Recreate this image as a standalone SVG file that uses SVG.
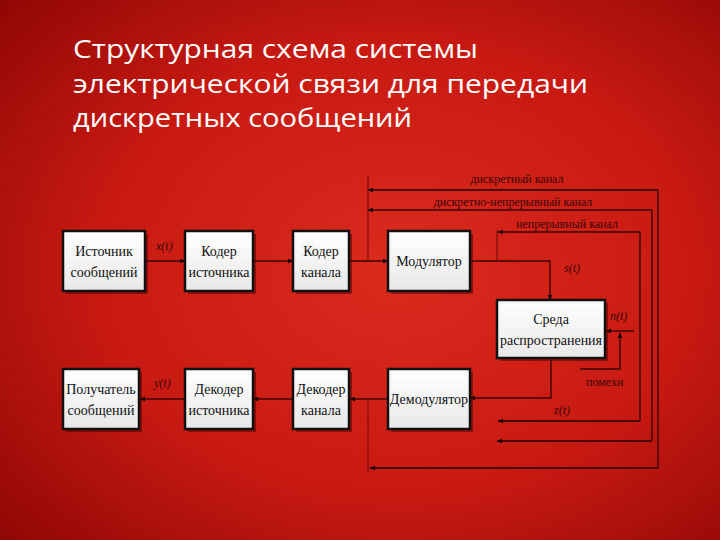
<svg xmlns="http://www.w3.org/2000/svg" width="720" height="540" viewBox="0 0 720 540">
<defs>
<radialGradient id="bg" cx="0.55" cy="0.5" r="0.75">
<stop offset="0" stop-color="#dc2a1e"/>
<stop offset="0.55" stop-color="#c81a12"/>
<stop offset="1" stop-color="#8e0604"/>
</radialGradient>
<linearGradient id="boxfill" x1="0" y1="0" x2="0" y2="1">
<stop offset="0" stop-color="#ffffff"/>
<stop offset="1" stop-color="#e8e8e8"/>
</linearGradient>
<marker id="ah" viewBox="0 0 10 10" refX="9" refY="5" markerWidth="6" markerHeight="6" orient="auto" markerUnits="userSpaceOnUse">
<path d="M0,1 L10,5 L0,9 z" fill="#1a0000"/>
</marker>
<style>
.box{fill:url(#boxfill);stroke:#111;stroke-width:2.5}
.shadow{fill:#5a0000;opacity:0.55}
.bt{font-family:"Liberation Serif","Times New Roman",serif;font-size:14px;fill:#111;text-anchor:middle}
.lbl{font-family:"Liberation Serif","Times New Roman",serif;font-size:12px;fill:#3a0606}
.it{font-family:"Liberation Serif","Times New Roman",serif;font-size:12px;font-style:italic;fill:#3a0606}
.ln{fill:none;stroke:#3a0606;stroke-width:1.4}
.ln2{fill:none;stroke:#4a0808;stroke-width:1.8}
.tk{fill:none;stroke:#6a0a0a;stroke-width:1}
.title{font-family:"Open Sans","Noto Sans",sans-serif;font-size:26px;fill:#ffffff}
</style>
</defs>
<rect width="720" height="540" fill="url(#bg)"/>
<g id="title">
<text class="title" x="73" y="58" textLength="405" lengthAdjust="spacingAndGlyphs">Структурная схема системы</text>
<text class="title" x="73" y="93" textLength="515" lengthAdjust="spacingAndGlyphs">электрической связи для передачи</text>
<text class="title" x="73" y="127" textLength="339" lengthAdjust="spacingAndGlyphs">дискретных сообщений</text>
</g>
<g id="connectors">
<path class="ln" d="M145,261 H185" marker-end="url(#ah)"/>
<path class="ln" d="M253,261 H293" marker-end="url(#ah)"/>
<path class="ln" d="M350,261 H388" marker-end="url(#ah)"/>
<path class="ln" d="M470,261 H550 V300" marker-end="url(#ah)"/>
<path class="ln" d="M551,360 V398 H470" marker-end="url(#ah)"/>
<path class="ln" d="M388,399 H350" marker-end="url(#ah)"/>
<path class="ln" d="M293,399 H253" marker-end="url(#ah)"/>
<path class="ln" d="M185,399 H140" marker-end="url(#ah)"/>
<path class="ln" d="M634,331 H606" marker-end="url(#ah)"/>
<path class="ln" d="M580,369 H620 V333" marker-end="url(#ah)"/>
<path class="tk" d="M368,176 V262 M368,399 V472 M497,230 V262"/>
<path class="ln2" d="M658,190 H368" marker-end="url(#ah)"/>
<path class="ln" d="M658,190 V468"/>
<path class="ln2" d="M658,468 H370" marker-end="url(#ah)"/>
<path class="ln" d="M652,210 H368" marker-end="url(#ah)"/>
<path class="ln" d="M652,210 V441"/>
<path class="ln2" d="M652,441 H497" marker-end="url(#ah)"/>
<path class="ln" d="M640,232 H498" marker-end="url(#ah)"/>
<path class="ln" d="M640,232 V421"/>
<path class="ln2" d="M640,421 H498" marker-end="url(#ah)"/>
</g>
<g id="labels">
<text class="lbl" x="517" y="183" text-anchor="middle">дискретный канал</text>
<text class="lbl" x="513" y="206" text-anchor="middle">дискретно-непрерывный канал</text>
<text class="lbl" x="567" y="228" text-anchor="middle">непрерывный канал</text>
<text class="it" x="156" y="250">x(t)</text>
<text class="it" x="564" y="272">s(t)</text>
<text class="it" x="610" y="320">n(t)</text>
<text class="lbl" x="586" y="386">помехи</text>
<text class="it" x="554" y="414">z(t)</text>
<text class="it" x="154" y="387">y(t)</text>
</g>
<g id="n-source">
<rect class="shadow" x="66" y="234" width="82" height="60"/>
<rect class="box" x="63" y="231" width="82" height="60"/>
<text class="bt" x="104" y="256">Источник</text>
<text class="bt" x="104" y="277">сообщений</text>
</g>
<g id="n-srccoder">
<rect class="shadow" x="188" y="234" width="68" height="60"/>
<rect class="box" x="185" y="231" width="68" height="60"/>
<text class="bt" x="219" y="256">Кодер</text>
<text class="bt" x="219" y="277">источника</text>
</g>
<g id="n-chcoder">
<rect class="shadow" x="296" y="234" width="56" height="60"/>
<rect class="box" x="293" y="231" width="56" height="60"/>
<text class="bt" x="321" y="256">Кодер</text>
<text class="bt" x="321" y="277">канала</text>
</g>
<g id="n-mod">
<rect class="shadow" x="391" y="234" width="82" height="60"/>
<rect class="box" x="388" y="231" width="82" height="60"/>
<text class="bt" x="429" y="266">Модулятор</text>
</g>
<g id="n-medium">
<rect class="shadow" x="500" y="303" width="108" height="58"/>
<rect class="box" x="497" y="300" width="108" height="58"/>
<text class="bt" x="551" y="324">Среда</text>
<text class="bt" x="551" y="345">распространения</text>
</g>
<g id="n-receiver">
<rect class="shadow" x="66" y="372" width="76" height="60"/>
<rect class="box" x="63" y="369" width="76" height="60"/>
<text class="bt" x="101" y="394">Получатель</text>
<text class="bt" x="101" y="415">сообщений</text>
</g>
<g id="n-srcdecoder">
<rect class="shadow" x="188" y="372" width="68" height="60"/>
<rect class="box" x="185" y="369" width="68" height="60"/>
<text class="bt" x="219" y="394">Декодер</text>
<text class="bt" x="219" y="415">источника</text>
</g>
<g id="n-chdecoder">
<rect class="shadow" x="296" y="372" width="56" height="60"/>
<rect class="box" x="293" y="369" width="56" height="60"/>
<text class="bt" x="321" y="394">Декодер</text>
<text class="bt" x="321" y="415">канала</text>
</g>
<g id="n-demod">
<rect class="shadow" x="391" y="372" width="82" height="60"/>
<rect class="box" x="388" y="369" width="82" height="60"/>
<text class="bt" x="429" y="404">Демодулятор</text>
</g>
</svg>
